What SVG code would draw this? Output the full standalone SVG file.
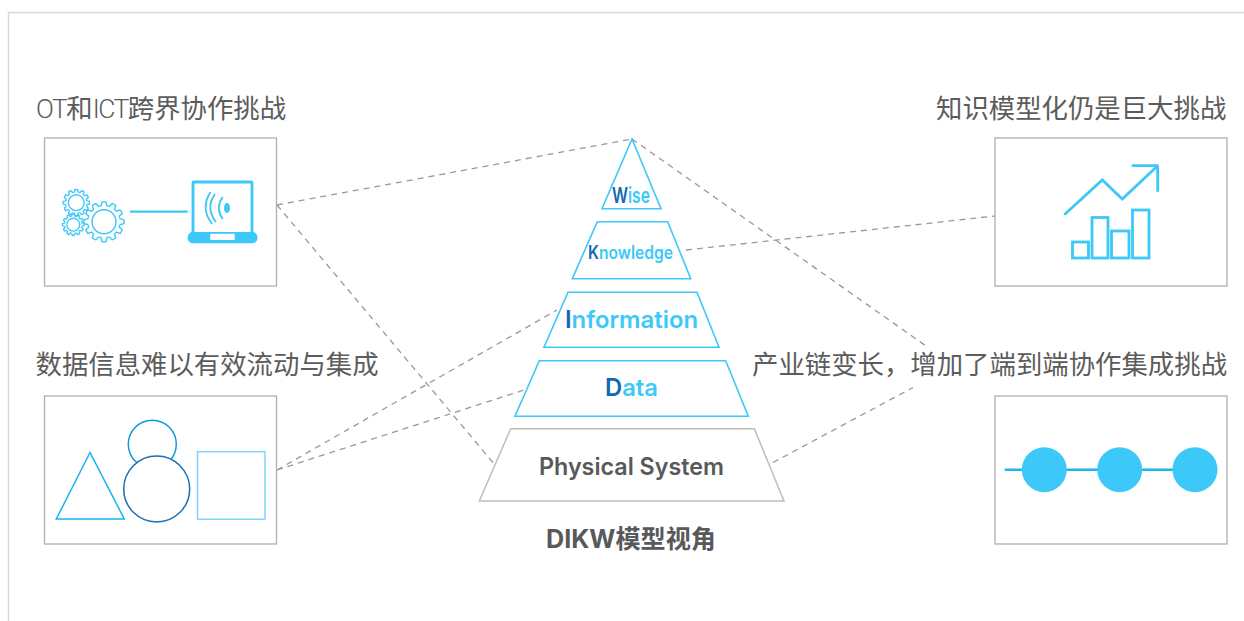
<svg xmlns="http://www.w3.org/2000/svg" width="1244" height="621" viewBox="0 0 1244 621">
<style>
.box{fill:#fff;stroke:#b0b0b0;stroke-width:1.3}
.lab{font-family:Roboto,"Noto Sans CJK SC",sans-serif;font-size:26.4px;font-weight:400;fill:#5c5c5c}
.lat{font-weight:300;letter-spacing:-1.5px}
.dash{fill:none;stroke:#999;stroke-width:1.3;stroke-dasharray:6 5}
.py{fill:none;stroke:#3cc8f8;stroke-width:1.6}
.pt{font-family:Inter,"Liberation Sans",sans-serif;font-weight:600;fill:#3cc8f8}
.dk{fill:#1268b3}
.ic{fill:none;stroke:#3cc8f8}
.gear{fill:none;stroke:#3cc8f8;stroke-linejoin:round}
</style>
<defs>
<path id="t" d="M-4.14-15.45L-2.8-16.2L-2.1-19.8Q0-20.3 2.1-19.8L2.8-16.2L4.14-15.45"/>
<g id="gear">
<use href="#t"/><use href="#t" transform="rotate(30)"/><use href="#t" transform="rotate(60)"/><use href="#t" transform="rotate(90)"/><use href="#t" transform="rotate(120)"/><use href="#t" transform="rotate(150)"/><use href="#t" transform="rotate(180)"/><use href="#t" transform="rotate(210)"/><use href="#t" transform="rotate(240)"/><use href="#t" transform="rotate(270)"/><use href="#t" transform="rotate(300)"/><use href="#t" transform="rotate(330)"/>
<circle r="12"/>
</g>
</defs>
<rect width="1244" height="621" fill="#fff"/>
<path id="frame" d="M8.500 621V12.500H1244" fill="none" stroke="#d8d8d8" stroke-width="1.400"/>

<g id="connectors">
<path class="dash" d="M277 205L632 139"/>
<path class="dash" d="M277 205L495 465"/>
<path class="dash" d="M632 139L926 346"/>
<path class="dash" d="M686 250L995 216"/>
<path class="dash" d="M277 470L557 310"/>
<path class="dash" d="M277 470L527 389"/>
<path class="dash" d="M773 462.500L913 387.500"/>
</g>

<g id="node-ot">
<text class="lab" x="36" y="118"><tspan class="lat">OT</tspan>和<tspan class="lat">ICT</tspan>跨界协作挑战</text>
<rect class="box" x="44.500" y="138" width="232" height="148"/>
<g class="gear" stroke-width="2.100" transform="translate(76.300 202.700) scale(.66)"><use href="#gear"/></g>
<g class="gear" stroke-width="2.500" transform="translate(73.300 224.700) scale(.54)"><use href="#gear"/></g>
<g class="gear" stroke-width="1.400" transform="translate(104 221.700)"><use href="#gear"/></g>
<path class="ic" stroke-width="2.200" d="M130 211.700H187.700"/>
<rect class="ic" stroke-width="2.800" x="193" y="182" width="59" height="52" rx="1"/>
<rect x="187.700" y="232" width="69.700" height="11.300" rx="5" fill="#3cc8f8"/>
<rect x="210.300" y="233.800" width="24.400" height="6.200" fill="#fff"/>
<ellipse cx="227" cy="208" rx="3" ry="5" fill="#3cc8f8"/>
<path class="ic" stroke-width="1.800" d="M222.700 197Q215 208 222.700 219M215 194Q205 208 216 222M210.500 192Q200 208 212 224"/>
</g>

<g id="node-data">
<text class="lab" x="35.500" y="374">数据信息难以有效流动与集成</text>
<rect class="box" x="44.500" y="396" width="232" height="148"/>
<path d="M90 452.500L56.300 519H124.300Z" fill="none" stroke="#16b5ee" stroke-width="1.500"/>
<circle cx="152.300" cy="444.300" r="24" fill="none" stroke="#0f9bdc" stroke-width="1.500"/>
<circle cx="156.700" cy="489" r="33" fill="#fff" stroke="#1a6fb5" stroke-width="1.500"/>
<rect x="197.500" y="451.700" width="67.500" height="67.500" fill="none" stroke="#7fd6fa" stroke-width="1.500"/>
</g>

<g id="node-knowledge">
<text class="lab" x="936" y="118">知识模型化仍是巨大挑战</text>
<rect class="box" x="995" y="138" width="232" height="148"/>
<path class="ic" stroke-width="2.800" d="M1064.300 214.700L1102.300 180L1122.300 199L1157.700 165.700M1131.700 165.700H1158.500M1157.700 165.700V191.700"/>
<g class="ic" stroke-width="2.800">
<rect x="1072.500" y="242" width="16" height="16"/>
<rect x="1092" y="217.500" width="16" height="40.500"/>
<rect x="1111.500" y="231" width="17.500" height="27"/>
<rect x="1132.500" y="210" width="16.500" height="48"/>
</g>
</g>

<g id="node-chain">
<text class="lab" x="752" y="374">产业链变长，增加了端到端协作集成挑战</text>
<rect class="box" x="995" y="396" width="232" height="148"/>
<path stroke="#1fb6ee" stroke-width="2.400" d="M1004.700 469.700H1195"/>
<circle cx="1044.300" cy="469.700" r="22.500" fill="#3cc8f8"/>
<circle cx="1119.700" cy="469.700" r="22.500" fill="#3cc8f8"/>
<circle cx="1195" cy="469.700" r="22.500" fill="#3cc8f8"/>
</g>

<g id="node-wise">
<path class="py" d="M632 139L602 208.700H661Z"/>
<text class="pt" x="612" y="203.300" font-size="22" textLength="38" lengthAdjust="spacingAndGlyphs"><tspan class="dk">W</tspan>ise</text>
</g>
<g id="node-know">
<path class="py" d="M597.300 221.700H667.700L690.700 278.700H572.300Z"/>
<text class="pt" x="588" y="259.300" font-size="18" textLength="85" lengthAdjust="spacingAndGlyphs"><tspan class="dk">K</tspan>nowledge</text>
</g>
<g id="node-info">
<path class="py" d="M568 292.300H697L719 347.300H544Z"/>
<text class="pt" x="565" y="328" font-size="24" textLength="133" lengthAdjust="spacingAndGlyphs"><tspan class="dk">I</tspan>nformation</text>
</g>
<g id="node-dat">
<path class="py" d="M539.300 360.700H725.700L748.300 416.300H515Z"/>
<text class="pt" x="605" y="396" font-size="24" textLength="53" lengthAdjust="spacingAndGlyphs"><tspan class="dk">D</tspan>ata</text>
</g>
<g id="node-physical">
<path d="M510.700 428.700H754.300L784 501H479.300Z" fill="none" stroke="#bdbdbd" stroke-width="1.500"/>
<text x="539" y="475" font-family="Inter,'Liberation Sans',sans-serif" font-weight="600" font-size="24" fill="#58595b" textLength="185" lengthAdjust="spacingAndGlyphs">Physical System</text>
</g>
<text id="caption" x="546" y="548" font-family="Inter,'Noto Sans CJK SC',sans-serif" font-weight="700" font-size="25.500" fill="#58595b" textLength="170" lengthAdjust="spacingAndGlyphs">DIKW模型视角</text>
</svg>
